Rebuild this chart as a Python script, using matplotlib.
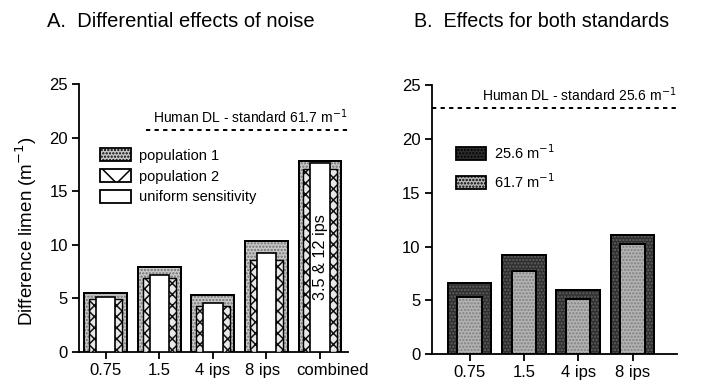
import matplotlib
matplotlib.use("Agg")
import matplotlib.pyplot as plt
from matplotlib.patches import Patch
from matplotlib.transforms import ScaledTranslation
import numpy as np

plt.rcParams['font.family'] = ['Liberation Sans', 'DejaVu Sans']
plt.rcParams['hatch.linewidth'] = 1.1

# Panel A: difference limens under noise, three sensitivity models
cats_a = ["0.75", "1.5", "4 ips", "8 ips", "combined"]
pop1 = [5.5, 7.9, 5.3, 10.35, 17.85]
pop2 = [4.9, 6.9, 4.3, 8.6, 17.1]
uniform = [5.1, 7.2, 4.6, 9.2, 17.6]
human_dl_a = 20.7

# Panel B: both standards
cats_b = ["0.75", "1.5", "4 ips", "8 ips"]
std_256 = [6.65, 9.2, 6.0, 11.1]
std_617 = [5.3, 7.75, 5.15, 10.2]
human_dl_b = 22.9

LIGHT = '#c8c8c8'
DARK = '#2e2e2e'
MID = '#b4b4b4'


def stipple_bar(ax, x, h, w, face, dots, zorder):
    ax.bar(x, h, w, color=face, edgecolor='black', linewidth=1.4, zorder=zorder)
    ax.bar(x, h, w, color='none', edgecolor=dots, hatch='.....', linewidth=0, zorder=zorder + 0.1)
    ax.bar(x, h, w, color='none', edgecolor='black', linewidth=1.4, zorder=zorder + 0.2)


def style_axes(ax, xlim):
    ax.set_ylim(0, 25)
    ax.set_xlim(*xlim)
    ax.set_yticks([0, 5, 10, 15, 20, 25])
    for s in ('top', 'right'):
        ax.spines[s].set_visible(False)
    for s in ('left', 'bottom'):
        ax.spines[s].set_linewidth(1.3)
    ax.tick_params(direction='out', length=5, width=1.3, labelsize=12, pad=3)


fig = plt.figure(figsize=(7.04, 3.85), dpi=100)

# ---- Panel A ----
axA = fig.add_axes([0.1122, 0.0857, 0.382, 0.696])
xa = np.arange(len(cats_a))
stipple_bar(axA, xa, pop1, 0.80, LIGHT, '#707070', 2)
axA.bar(xa, pop2, 0.62, color='#e8e8e8', edgecolor='#111111', hatch='xxx', linewidth=0, zorder=3)
axA.bar(xa, pop2, 0.62, color='none', edgecolor='black', linewidth=1.0, zorder=3.1)
axA.bar(xa, uniform, 0.36, color='white', edgecolor='black', linewidth=1.2, zorder=4)
style_axes(axA, (-0.5, 4.52))
axA.set_xticks(xa)
axA.set_xticklabels(cats_a)
# nudge the outer labels so "8 ips" and "combined" don't crowd each other
labels = axA.get_xticklabels()
labels[3].set_transform(labels[3].get_transform() + ScaledTranslation(-0.04, 0, fig.dpi_scale_trans))
labels[4].set_transform(labels[4].get_transform() + ScaledTranslation(0.12, 0, fig.dpi_scale_trans))
axA.set_ylabel("Difference limen (m$^{-1}$)", fontsize=13.5)
axA.yaxis.set_label_coords(-0.15, 0.45)
axA.axhline(human_dl_a, xmin=0.25, xmax=1.0, color='black', linestyle=(0, (2.2, 2.2)), linewidth=1.4)
axA.text(4.52, human_dl_a + 0.35, "Human DL - standard 61.7 m$^{-1}$", ha='right', va='bottom', fontsize=10)
axA.text(4, 8.9, "3.5 & 12 ips", rotation=90, ha='center', va='center', fontsize=11.7, zorder=5)

handles_a = [
    Patch(facecolor=LIGHT, edgecolor='black', hatch='.....', linewidth=1.3),
    Patch(facecolor='white', edgecolor='black', hatch='x', linewidth=1.3),
    Patch(facecolor='white', edgecolor='black', linewidth=1.3),
]
axA.legend(handles_a, ["population 1", "population 2", "uniform sensitivity"],
           loc='upper left', bbox_to_anchor=(0.078, 0.76), frameon=False,
           fontsize=10.5, handlelength=2.1, handleheight=1.0, handletextpad=0.55,
           labelspacing=0.42, borderaxespad=0, borderpad=0)

# ---- Panel B ----
axB = fig.add_axes([0.613, 0.0805, 0.348, 0.698])
xb = np.arange(len(cats_b))
stipple_bar(axB, xb, std_256, 0.80, DARK, '#606060', 2)
stipple_bar(axB, xb, std_617, 0.45, MID, '#808080', 3)
style_axes(axB, (-0.7, 3.81))
axB.set_xticks(xb)
axB.set_xticklabels(cats_b)
axB.axhline(human_dl_b, color='black', linestyle=(0, (2.2, 2.2)), linewidth=1.4)
axB.text(3.81, human_dl_b + 0.35, "Human DL - standard 25.6 m$^{-1}$", ha='right', va='bottom', fontsize=10)

handles_b = [
    Patch(facecolor=DARK, edgecolor='black', hatch='.....', linewidth=1.3),
    Patch(facecolor=MID, edgecolor='black', hatch='.....', linewidth=1.3),
]
axB.legend(handles_b, ["25.6 m$^{-1}$", "61.7 m$^{-1}$"],
           loc='upper left', bbox_to_anchor=(0.099, 0.785), frameon=False,
           fontsize=10.5, handlelength=2.1, handleheight=1.0, handletextpad=0.55,
           labelspacing=0.7, borderaxespad=0, borderpad=0)

fig.text(0.067, 0.945, "A.  Differential effects of noise", fontsize=14.5, ha='left', va='center')
fig.text(0.588, 0.945, "B.  Effects for both standards", fontsize=14.2, ha='left', va='center')

fig.savefig("out.png", dpi=100)
